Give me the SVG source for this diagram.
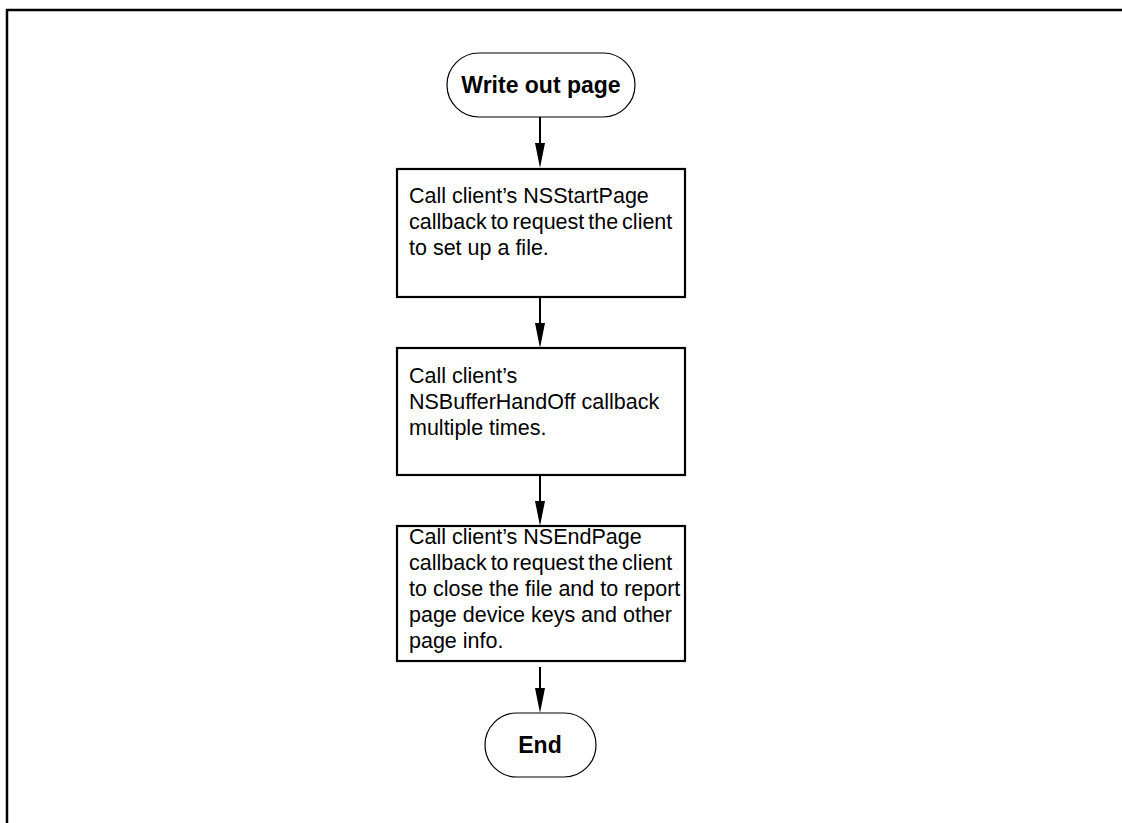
<svg xmlns="http://www.w3.org/2000/svg" width="1122" height="823" viewBox="0 0 1122 823">
<style>
.frame{fill:none;stroke:#000;stroke-width:2.5}
.box{fill:#fff;stroke:#000;stroke-width:2.2}
.term{fill:#fff;stroke:#000;stroke-width:1.2}
.body{font-family:"Liberation Sans",Arial,sans-serif;font-size:21.5px;fill:#000}
.tight{word-spacing:-2px}
.bold{font-family:"Liberation Sans",Arial,sans-serif;font-size:23px;font-weight:bold;fill:#000;text-anchor:middle}
.conn{stroke:#000;stroke-width:2;fill:none}
.head{fill:#000}
</style>
<rect width="1122" height="823" fill="#fff"/>
<path class="frame" d="M7,830 L7,10 L1130,10"/>
<g id="connectors">
<line class="conn" x1="540" y1="117" x2="540" y2="143"/>
<path class="head" d="M535,143 L545,143 L540,168 Z"/>
<line class="conn" x1="540" y1="297" x2="540" y2="323"/>
<path class="head" d="M535,323 L545,323 L540,348 Z"/>
<line class="conn" x1="540" y1="476" x2="540" y2="501"/>
<path class="head" d="M535,501 L545,501 L540,526 Z"/>
<line class="conn" x1="540" y1="667" x2="540" y2="688"/>
<path class="head" d="M535,688 L545,688 L540,713 Z"/>
</g>
<g id="start">
<rect class="term" x="447" y="53" width="188" height="64" rx="32" ry="32"/>
<text class="bold" x="541" y="93">Write out page</text>
</g>
<g id="step1">
<rect class="box" x="397" y="169" width="288" height="128"/>
<text class="body" x="409" y="203">Call client’s NSStartPage</text>
<text class="body tight" x="409" y="229">callback to request the client</text>
<text class="body" x="409" y="255">to set up a file.</text>
</g>
<g id="step2">
<rect class="box" x="397" y="348" width="288" height="127"/>
<text class="body" x="409" y="383">Call client’s</text>
<text class="body" x="409" y="409">NSBufferHandOff callback</text>
<text class="body" x="409" y="435">multiple times.</text>
</g>
<g id="step3">
<rect class="box" x="397" y="526" width="288" height="135"/>
<text class="body" x="409" y="544">Call client’s NSEndPage</text>
<text class="body tight" x="409" y="570">callback to request the client</text>
<text class="body" x="409" y="596">to close the file and to report</text>
<text class="body" x="409" y="622">page device keys and other</text>
<text class="body" x="409" y="648">page info.</text>
</g>
<g id="end">
<rect class="term" x="485" y="713" width="111" height="64" rx="32" ry="32"/>
<text class="bold" x="540" y="753">End</text>
</g>
</svg>
